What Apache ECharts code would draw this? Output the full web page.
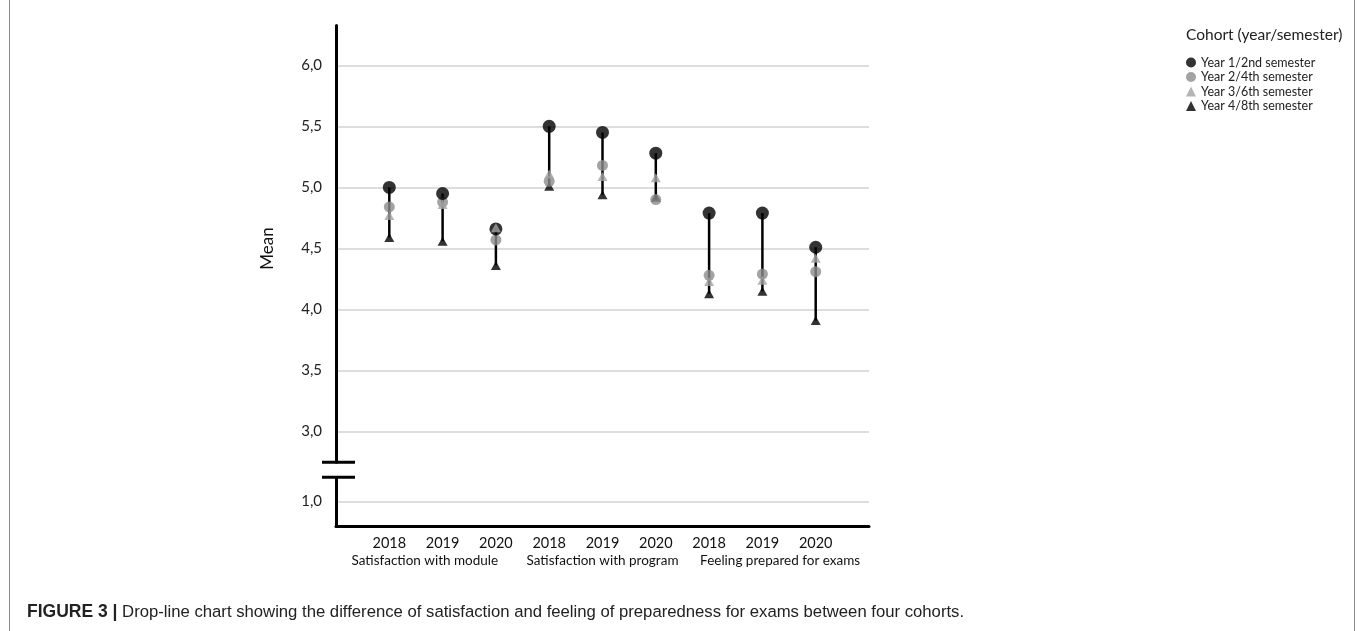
<!DOCTYPE html>
<html><head><meta charset="utf-8">
<script src="https://cdn.jsdelivr.net/npm/echarts@6/dist/echarts.min.js"></script>
<style>
html,body{margin:0;padding:0;background:#fff}
#c{width:1357px;height:631px}
#frame{position:absolute;left:9px;top:0;width:1346px;height:631px;border-left:1px solid #8a8a8a;border-right:1px solid #8a8a8a;box-sizing:border-box;pointer-events:none}
</style></head>
<body><div id="c"></div><div id="frame"></div>
<script>
const years = ['2018','2019','2020','2018','2019','2020','2018','2019','2020'];
const groups = ['Satisfaction with module','Satisfaction with program','Feeling prepared for exams'];
const cohorts = ['Year 1/2nd semester','Year 2/4th semester','Year 3/6th semester','Year 4/8th semester'];
const year1 = [5.00,4.95,4.66,5.50,5.45,5.28,4.79,4.79,4.51];
const year2 = [4.84,4.88,4.57,5.05,5.18,4.90,4.28,4.29,4.31];
const year3 = [4.77,4.86,4.67,5.11,5.09,5.08,4.23,4.24,4.42];
const year4 = [4.59,4.56,4.36,5.01,4.94,4.92,4.13,4.15,3.91];
const yTicks = [1.0,3.0,3.5,4.0,4.5,5.0,5.5,6.0];
const yTickLabels = ['1,0','3,0','3,5','4,0','4,5','5,0','5,5','6,0'];
const yBreak = [1.2, 2.75];

const FONT = 'Lato';
const xCats = [''].concat(years, ['']);
const toPts = arr => arr.map((v,i)=>[i+1, v]);
const all = [year1,year2,year3,year4];
const dropData = years.map((_,i)=>{
  const vals = all.map(a=>a[i]);
  return [i+1, Math.min(...vals), Math.max(...vals)];
});

const chart = echarts.init(document.getElementById('c'), null, {renderer:'canvas'});
const gridGeom = {left:336, right:488, top:25, bottom:105};

const option = {
  animation:false,
  backgroundColor:'#fff',
  title:[
    {text:'Cohort (year/semester)', left:1181, top:22,
     textStyle:{fontSize:15.5, fontWeight:'normal', color:'#222', fontFamily:FONT}},
    {text:'{b|FIGURE 3 |} Drop-line chart showing the difference of satisfaction and feeling of preparedness for exams between four cohorts.',
     left:22, top:598,
     textStyle:{fontSize:16.7, fontWeight:'normal', color:'#222', fontFamily:'Liberation Sans',
       rich:{b:{fontSize:17.5, fontWeight:'bold', color:'#222', fontFamily:'Liberation Sans'}}}}
  ],
  legend:{
    data:[{name:cohorts[0], icon:'circle'},{name:cohorts[1], icon:'circle'},{name:cohorts[2], icon:'triangle'},{name:cohorts[3], icon:'triangle'}],
    orient:'vertical', left:1181, top:51, itemGap:1.5, itemWidth:10, itemHeight:10,
    textStyle:{fontSize:12.5, color:'#222', fontFamily:FONT}
  },
  grid:[Object.assign({}, gridGeom), Object.assign({}, gridGeom)],
  xAxis:[
    {type:'category', gridIndex:0, data:xCats, boundaryGap:false,
     axisLine:{show:true, onZero:false, lineStyle:{color:'#000', width:3}},
     axisTick:{show:false}, splitLine:{show:false},
     axisLabel:{interval:0, margin:10, fontSize:14.5, color:'#111', fontFamily:FONT}},
    {type:'category', gridIndex:1, data:groups, boundaryGap:true,
     axisLine:{show:false}, axisTick:{show:false}, splitLine:{show:false},
     axisLabel:{interval:0, margin:28, fontSize:13.5, color:'#111', fontFamily:FONT}}
  ],
  yAxis:[
    {type:'value', gridIndex:0, min:0.8, max:6.33,
     breaks:[{start:yBreak[0], end:yBreak[1], gap:15/122}],
     breakArea:{show:false},
     axisLine:{show:true, lineStyle:{color:'#000', width:3}},
     axisTick:{show:false, customValues:yTicks},
     axisLabel:{customValues:yTicks, margin:14, fontSize:15, color:'#222', fontFamily:FONT,
       formatter:function(v){ const i = yTicks.findIndex(t=>Math.abs(t-v)<1e-6); return i>=0 ? yTickLabels[i] : ''; }},
     splitLine:{show:true, lineStyle:{color:'#d2d2d2', width:1.5}},
     name:'Mean', nameLocation:'middle', nameGap:60,
     nameTextStyle:{fontSize:17, color:'#111', fontFamily:FONT, padding:[0,0,0,54]}},
    {type:'value', gridIndex:1, min:0, max:1, show:false}
  ],
  series:[
    {type:'custom', name:'drop', xAxisIndex:0, yAxisIndex:0, data:dropData, z:1,
     renderItem:function(params, api){
       const p1 = api.coord([api.value(0), api.value(1)]);
       const p2 = api.coord([api.value(0), api.value(2)]);
       return {type:'line', shape:{x1:p1[0], y1:p1[1], x2:p2[0], y2:p2[1]},
               style:{stroke:'#000', lineWidth:2.5}};
     }},
    {type:'scatter', name:cohorts[3], data:toPts(year4), symbol:'triangle', symbolSize:[10,9], z:2,
     itemStyle:{color:'#000'}},
    {type:'scatter', name:cohorts[1], data:toPts(year2), symbol:'circle', symbolSize:11, z:3,
     itemStyle:{color:'#8c8c8c'}},
    {type:'scatter', name:cohorts[0], data:toPts(year1), symbol:'circle', symbolSize:13, z:4,
     itemStyle:{color:'#000'}},
    {type:'scatter', name:cohorts[2], data:toPts(year3), symbol:'triangle', symbolSize:[10,9], z:5,
     itemStyle:{color:'#a3a3a3'}}
  ]
};
chart.setOption(option);

// axis-break decoration on the y axis line
const ax = chart.convertToPixel({gridIndex:0}, [0, yBreak[0]]);
const bx = chart.convertToPixel({gridIndex:0}, [0, yBreak[1]]);
const xA = ax[0], yLo = ax[1], yHi = bx[1];
chart.setOption({graphic:[
  {type:'rect', shape:{x:xA-5, y:yHi+1.5, width:10, height:(yLo-yHi)-3}, style:{fill:'#fff'}, z:50},
  {type:'line', shape:{x1:xA-14, y1:yHi, x2:xA+19, y2:yHi}, style:{stroke:'#000', lineWidth:3}, z:51},
  {type:'line', shape:{x1:xA-14, y1:yLo, x2:xA+19, y2:yLo}, style:{stroke:'#000', lineWidth:3}, z:51}
]});
</script>
</body></html>
